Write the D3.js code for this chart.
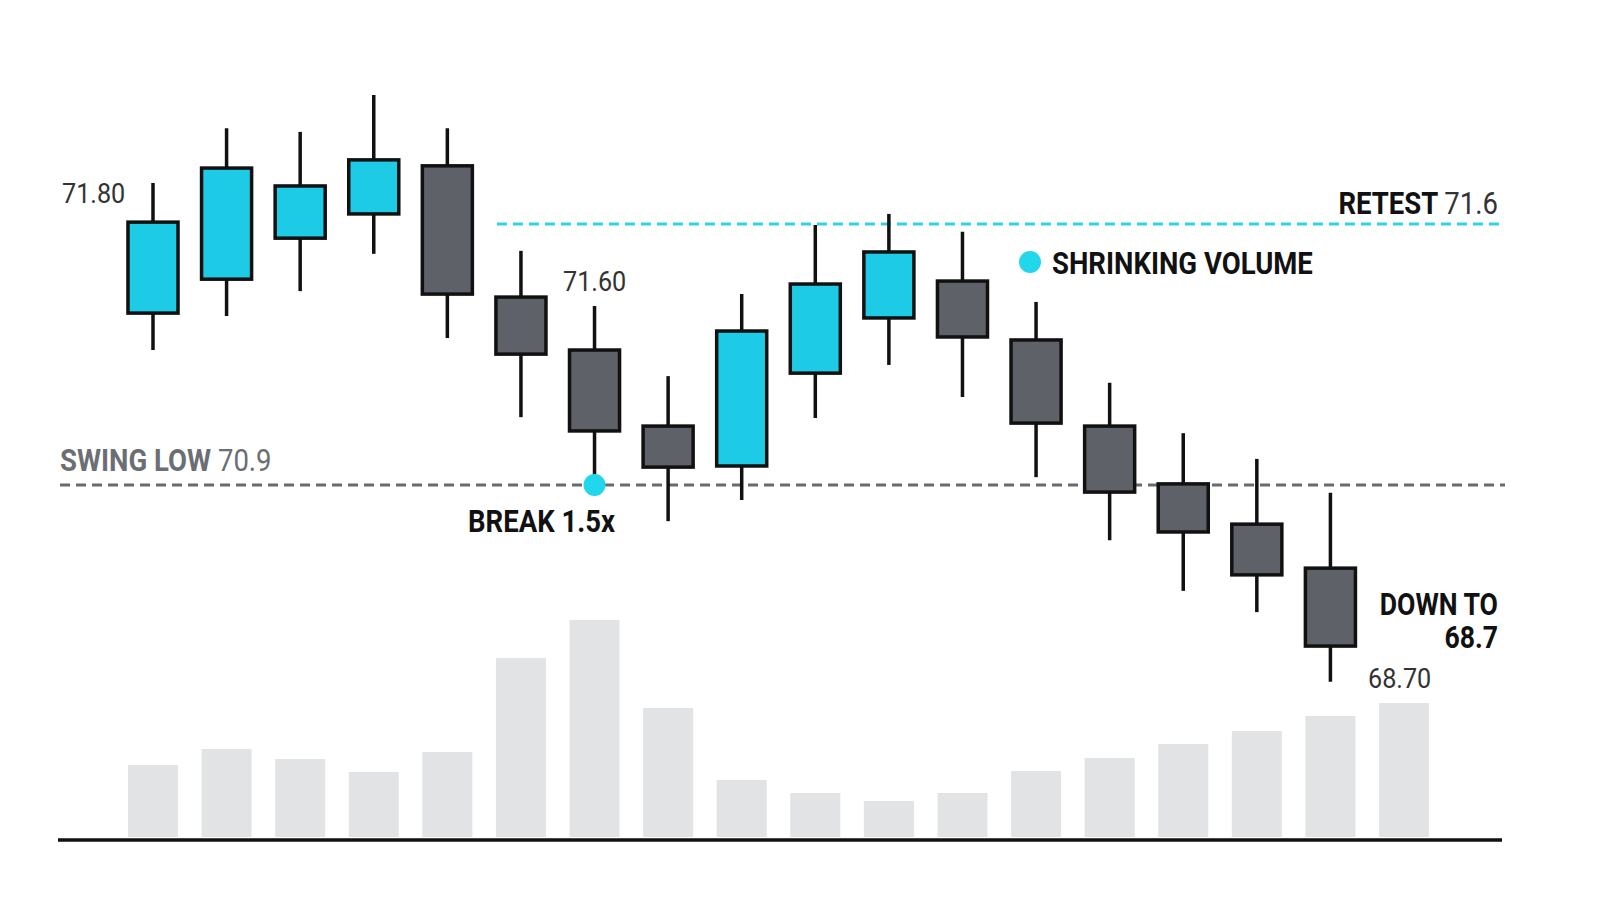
<!DOCTYPE html>
<html><head><meta charset="utf-8">
<script src="https://cdn.jsdelivr.net/npm/d3@7"></script>
<style>body{margin:0;background:#fff}</style></head>
<body><svg id="c" width="1600" height="914"></svg>
<script>
const opens  = [71.361,71.452,71.562,71.627,71.756,71.404,71.262,71.058,70.951,71.200,71.348,71.447,71.289,71.058,70.903,70.795,70.677];
const highs  = [71.710,71.857,71.847,71.946,71.857,71.528,71.380,71.192,71.412,71.597,71.627,71.579,71.391,71.174,71.039,70.970,70.879];
const lows   = [71.262,71.353,71.420,71.520,71.294,71.082,70.903,70.803,70.860,71.080,71.222,71.136,70.921,70.752,70.616,70.559,70.372];
const closes = [71.605,71.750,71.702,71.772,71.412,71.251,71.045,70.948,71.313,71.439,71.525,71.297,71.066,70.881,70.774,70.659,70.468];
const volumes = [72,88,78,65,85,179,217,129,57,44,36,44,66,79,93,106,121,134];
const swingLow = 70.9, retest = 71.6;

const svg = d3.select("#c");
const FONT = "'Liberation Sans Narrow','Roboto',sans-serif";
const x = d3.scaleBand().domain(d3.range(volumes.length)).range([116.2,1440.8]).paddingInner(0.32).paddingOuter(0.16);
const y = d3.scaleLinear().domain([70.9,71.6]).range([485,224]);
const yv = d3.scaleLinear().domain([0,217]).range([837,620]);
const cx = i => x(i)+x.bandwidth()/2;

svg.selectAll(".vol").data(volumes).join("rect")
  .attr("x",(d,i)=>x(i)).attr("width",x.bandwidth())
  .attr("y",d=>yv(d)).attr("height",d=>yv(0)-yv(d)).attr("fill","#e2e3e5");
svg.append("line").attr("x1",58).attr("x2",1502).attr("y1",840).attr("y2",840).attr("stroke","#111").attr("stroke-width",3.5);

svg.append("line").attr("x1",60).attr("x2",1505).attr("y1",y(swingLow)).attr("y2",y(swingLow))
  .attr("stroke","#676a70").attr("stroke-width",3).attr("stroke-dasharray","10,6");
svg.append("line").attr("x1",497).attr("x2",1505).attr("y1",y(retest)).attr("y2",y(retest))
  .attr("stroke","#2fd3e6").attr("stroke-width",3).attr("stroke-dasharray","10,6");

const g = svg.selectAll(".cd").data(opens).join("g");
g.append("line").attr("x1",(d,i)=>cx(i)).attr("x2",(d,i)=>cx(i))
  .attr("y1",(d,i)=>y(highs[i])).attr("y2",(d,i)=>y(lows[i])).attr("stroke","#111").attr("stroke-width",3.5);
g.append("rect").attr("x",(d,i)=>x(i)).attr("width",x.bandwidth())
  .attr("y",(d,i)=>y(Math.max(d,closes[i]))).attr("height",(d,i)=>Math.abs(y(d)-y(closes[i])))
  .attr("fill",(d,i)=>closes[i]>d?"#1ecbe6":"#5e6168").attr("stroke","#111").attr("stroke-width",3.5);

svg.append("circle").attr("cx",cx(6)).attr("cy",y(swingLow)).attr("r",11).attr("fill","#22d6ec");
svg.append("circle").attr("cx",1030).attr("cy",262).attr("r",11).attr("fill","#22d6ec");

function txt(xp,yp,parts,anchor,size,sx){
  sx = sx||0.86;
  const t=svg.append("text").attr("transform",`translate(${xp},${yp}) scale(${sx},1)`).attr("text-anchor",anchor||"start")
    .attr("font-family",FONT).attr("font-size",size||30);
  parts.forEach(p=>t.append("tspan").text(p[0]).attr("font-weight",p[1]?"bold":"normal").attr("fill",p[2]||"#111"));
}
txt(62,203,[["71.80",0,"#333"]],"start",28,0.9);
txt(563,291,[["71.60",0,"#333"]],"start",28,0.9);
txt(1368,688,[["68.70",0,"#333"]],"start",28,0.9);
txt(1498,214,[["RETEST ",1],["71.6",0,"#333"]],"end",32);
txt(60,471,[["SWING LOW ",1,"#6b6e73"],["70.9",0,"#6b6e73"]],"start",32);
txt(1052,274,[["SHRINKING VOLUME",1]],"start",32);
txt(468,532,[["BREAK 1.5x",1]],"start",32);
txt(1498,615,[["DOWN TO",1]],"end",31);
txt(1498,648,[["68.7",1]],"end",31);
</script></body></html>
